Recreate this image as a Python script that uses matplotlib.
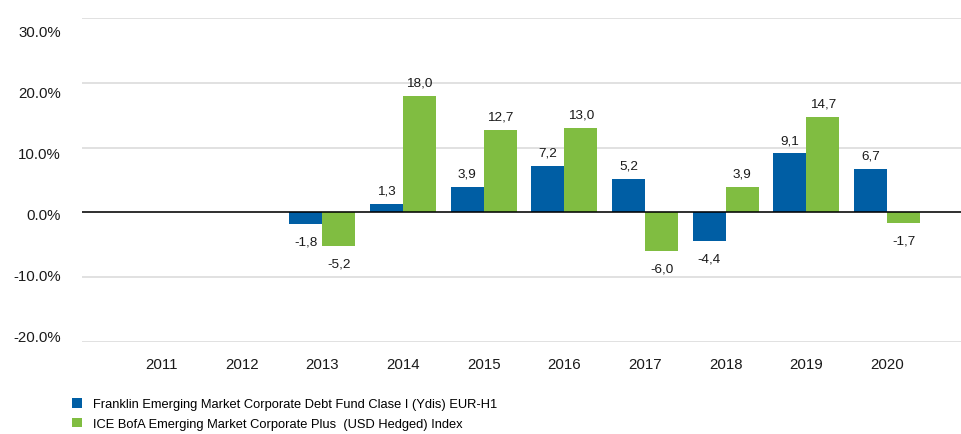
import matplotlib.pyplot as plt
import numpy as np

plt.rcParams['font.family'] = ['Liberation Sans', 'DejaVu Sans']

years = ['2011', '2012', '2013', '2014', '2015', '2016', '2017', '2018', '2019', '2020']
fund = [np.nan, np.nan, -1.8, 1.3, 3.9, 7.2, 5.2, -4.4, 9.1, 6.7]
index = [np.nan, np.nan, -5.2, 18.0, 12.7, 13.0, -6.0, 3.9, 14.7, -1.7]
yticks = [-20, -10, 0, 10, 20, 30]
fund_name = 'Franklin Emerging Market Corporate Debt Fund Clase I (Ydis) EUR-H1'
index_name = 'ICE BofA Emerging Market Corporate Plus  (USD Hedged) Index'

blue = '#005EA4'
green = '#80BD41'
txt_col = '#1a1a1a'

fig = plt.figure(figsize=(9.62, 4.35), dpi=100)
ax = fig.add_axes([82 / 962, 1 - 343 / 435, 1 - 82 / 962, (343 - 19) / 435])

x = np.arange(len(years))
w = 0.41
ax.bar(x - w / 2, fund, w, color=blue, label=fund_name, zorder=3)
ax.bar(x + w / 2, index, w, color=green, label=index_name, zorder=3)

def label(xs, vals):
    for xi, v in zip(xs, vals):
        if np.isnan(v):
            continue
        txt = f'{v:.1f}'.replace('.', ',')
        dy = 9.5 if v >= 0 else -12.5
        ax.annotate(txt, (xi, v), xytext=(0, dy), textcoords='offset points',
                    ha='center', va='center', fontsize=9.7, color=txt_col)

label(x - w / 2, fund)
label(x + w / 2, index)

ax.set_ylim(-20, 30)
ax.set_xlim(-0.98, 9.93)
ax.set_yticks(yticks)
ax.set_yticklabels([])
# the y labels sit on an evenly spaced column slightly inside the grid range
for yt, fy in zip(yticks, np.linspace(0.015, 0.957, len(yticks))):
    ax.text(-0.024, fy, f'{yt:.1f}%', transform=ax.transAxes, ha='right', va='center',
            fontsize=10.8, color=txt_col)
ax.set_xticks(x)
ax.set_xticklabels(years, fontsize=10.8, color=txt_col)
ax.tick_params(length=0)
ax.tick_params(axis='x', pad=11)
ax.grid(axis='y', color='#dcdcdc', linewidth=1.2, zorder=0)
ax.axhline(0, color='black', linewidth=1.1, zorder=4)
for s in ax.spines.values():
    s.set_visible(False)

fig.legend(loc='center left', bbox_to_anchor=(72 / 962, 1 - 415 / 435), frameon=False,
           fontsize=9.3, handlelength=0.8, handleheight=0.8, handletextpad=0.85,
           labelspacing=0.55, borderaxespad=0, borderpad=0)

fig.savefig('out.png', dpi=100)
